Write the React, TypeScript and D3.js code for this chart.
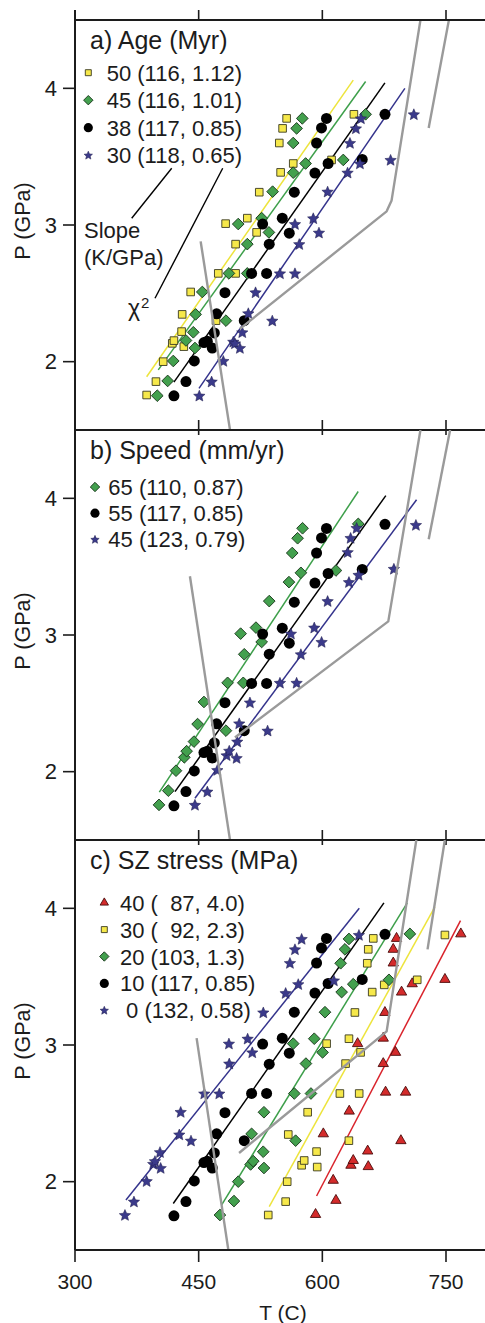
import React from "react";
import * as d3 from "d3";

type Pt = [number, number];

const T_TICKS = [300, 450, 600, 750];
const P_TICKS = [2, 3, 4];

// ---------- shared reference case (38 Myr / 55 mm/yr / 10 MPa) ----------
const refCase: Pt[] = [
  [420, 1.75], [434.6, 1.854], [444.7, 2.005], [456.4, 2.14], [460.5, 2.15], [466.5, 2.1],
  [469, 2.21], [471.8, 2.35], [481.9, 2.505], [505.3, 2.3], [514.2, 2.646], [532.4, 2.646],
  [535.6, 2.86], [527.6, 3.007], [551.4, 3.05], [559.9, 2.94], [566, 3.24], [591, 3.38],
  [593, 3.6], [599, 3.71], [605, 3.78], [607, 3.45], [648.4, 3.48], [676, 3.81],
];

// ---------- panel a: slab age ----------
const age50: Pt[] = [
  [386.9, 1.756], [398.2, 1.854], [407, 2.0], [418, 2.134], [420, 2.154], [432, 2.11],
  [429.3, 2.22], [430, 2.346], [471, 2.3], [440.3, 2.51], [473.8, 2.646], [494.8, 2.646],
  [494.8, 2.86], [482.7, 3.01], [509, 3.05], [520.3, 2.946], [523.5, 3.24], [549.4, 3.385],
  [547.8, 3.6], [551.8, 3.707], [556.7, 3.78], [564.7, 3.45], [611.2, 3.476], [638.3, 3.81],
];
const age45: Pt[] = [
  [399.8, 1.751], [412.4, 1.859], [419.2, 2.005], [434.6, 2.155], [445.5, 2.1], [443.5, 2.215],
  [446.3, 2.346], [483.1, 2.3], [454.4, 2.51], [486.7, 2.646], [509, 2.646], [509, 2.86],
  [498, 3.007], [526.4, 3.05], [535.2, 2.946], [539.7, 3.244], [564.7, 3.383], [564.7, 3.6],
  [568.8, 3.707], [575.7, 3.78], [579.7, 3.45], [625.4, 3.476], [652.5, 3.81],
];
const age30: Pt[] = [
  [450.8, 1.751], [465.7, 1.854], [479.9, 2.005], [492, 2.146], [494, 2.134], [500, 2.1],
  [502.9, 2.215], [510.2, 2.354], [539.3, 2.3], [519, 2.507], [548.6, 2.646], [566.8, 2.646],
  [572, 2.86], [566.8, 3.007], [589, 3.049], [595.9, 2.944], [606.4, 3.244], [630.6, 3.383],
  [633.5, 3.6], [640.7, 3.707], [646.8, 3.78], [645.6, 3.45], [682.8, 3.476], [711, 3.81],
];
const fitAge50: Pt[] = [[386.9, 1.89], [637.5, 4.06]];
const fitAge45: Pt[] = [[401, 1.94], [652.5, 4.05]];
const fitAge38: Pt[] = [[420, 1.85], [675.9, 4.04]];
const fitAge30: Pt[] = [[450.4, 1.805], [700.1, 4.0]];

// ---------- panel b: convergence speed ----------
const speed65: Pt[] = [
  [401.9, 1.757], [413.2, 1.861], [422.5, 2.007], [432.6, 2.105], [435.4, 2.15], [444.3, 2.22],
  [448.7, 2.348], [483.1, 2.3], [456.4, 2.51], [485.1, 2.65], [504.1, 2.65], [505.3, 2.859],
  [500.9, 3.01], [519.5, 3.054], [526.4, 2.949], [535.6, 3.248], [559.5, 3.387], [563.5, 3.6],
  [570, 3.708], [576, 3.781], [574, 3.455], [616.5, 3.472], [643.6, 3.813],
];
const speed45: Pt[] = [
  [445.5, 1.757], [460.5, 1.854], [472.6, 2.012], [483.9, 2.12], [487.1, 2.153], [496, 2.1],
  [496.8, 2.22], [499.2, 2.353], [533.6, 2.3], [512.2, 2.506], [548.6, 2.65], [568.8, 2.65],
  [574, 2.859], [561.9, 3.01], [590.2, 3.054], [599.1, 2.949], [606.4, 3.248], [632.3, 3.387],
  [630.7, 3.606], [634.3, 3.71], [641.6, 3.783], [644, 3.44], [686.8, 3.484], [713.5, 3.805],
];
const fitSpeed65: Pt[] = [[402.3, 1.85], [643.5, 4.05]];
const fitSpeed55: Pt[] = [[421.3, 1.854], [677, 4.02]];
const fitSpeed45: Pt[] = [[445.5, 1.805], [714.3, 3.99]];

// ---------- panel c: shear-zone stress ----------
const stress40: Pt[] = [
  [591.8, 1.76], [616.5, 1.863], [613.2, 2.01], [634.7, 2.12], [637.5, 2.155], [655.7, 2.11],
  [655, 2.224], [601.2, 2.35], [695.3, 2.3], [632.6, 2.516], [676.7, 2.655], [701, 2.655],
  [673.9, 2.864], [642.8, 3.01], [673.9, 3.05], [688.8, 2.946], [675.9, 3.238], [696.1, 3.387],
  [686, 3.6], [686, 3.7], [690, 3.78], [709, 3.448], [748.7, 3.48], [768, 3.813],
];
const stress30: Pt[] = [
  [534.4, 1.756], [555.5, 1.854], [557.4, 2.0], [574.9, 2.12], [578, 2.155], [593.8, 2.107],
  [593, 2.22], [558.7, 2.345], [632.2, 2.3], [582.2, 2.508], [621.3, 2.645], [644.7, 2.645],
  [628.2, 2.864], [605.2, 3.01], [632.3, 3.046], [646.4, 2.946], [639.5, 3.238], [660.5, 3.387],
  [654.5, 3.598], [655.7, 3.7], [661.8, 3.78], [675.1, 3.44], [715.1, 3.477], [748.7, 3.805],
];
const stress20: Pt[] = [
  [475.8, 1.756], [492.8, 1.858], [498, 2.0], [513, 2.126], [516.2, 2.15], [529.2, 2.1],
  [528.3, 2.219], [514.2, 2.35], [567.6, 2.3], [529.2, 2.508], [566, 2.645], [586.2, 2.645],
  [580.1, 2.864], [564.7, 3.01], [590.2, 3.046], [600.3, 2.946], [603.2, 3.24], [623.4, 3.387],
  [622.2, 3.598], [627.4, 3.7], [632.3, 3.776], [637.5, 3.445], [680.8, 3.477], [706.2, 3.813],
];
const stress0: Pt[] = [
  [360.6, 1.756], [371.5, 1.854], [386.9, 2.004], [394.9, 2.13], [397, 2.15], [403.9, 2.1],
  [403.1, 2.216], [426.5, 2.345], [440.7, 2.3], [428.2, 2.51], [456.8, 2.645], [475, 2.645],
  [487.1, 2.864], [486.7, 3.01], [509.4, 3.046], [515, 2.946], [528.4, 3.238], [555.5, 3.38],
  [560.7, 3.6], [566.8, 3.7], [574.9, 3.776], [570.8, 3.445], [614, 3.472], [644.4, 3.805],
];
const fitStress40: Pt[] = [[593, 1.895], [767.6, 3.91]];
const fitStress30: Pt[] = [[535.6, 1.817], [736.5, 4.01]];
const fitStress20: Pt[] = [[477.9, 1.83], [703, 4.04]];
const fitStress10: Pt[] = [[419.2, 1.84], [674.7, 4.04]];
const fitStress0: Pt[] = [[361.8, 1.866], [644.8, 4.0]];

// ---------- grey reference curves ----------
const greyLeftA: Pt[] = [[452.4, 2.88], [488, 1.5]];
const greyLeftB: Pt[] = [[439.4, 3.43], [488, 1.5]];
const greyLeftC: Pt[] = [[447.5, 3.05], [486, 1.5]];
const greyKinkA: Pt[] = [[500, 2.24], [678, 3.1], [684, 3.18], [719, 4.5]];
const greyKinkB: Pt[] = [[494, 2.25], [680, 3.1], [719, 4.5]];
const greyKinkC: Pt[] = [[499, 2.21], [678, 3.1], [714, 4.5]];
const greyRightA: Pt[] = [[729, 3.71], [753.5, 4.5]];
const greyRightB: Pt[] = [[729, 3.7], [755, 4.5]];
const greyRightC: Pt[] = [[727.6, 3.7], [748.6, 4.5]];

type Kind = "square" | "diamond" | "circle" | "star" | "triangle";

const STYLE: Record<Kind, { fill: string; stroke: string; sw: number; size: number; lsize: number; line: string }> = {
  square: { fill: "#f6e84a", stroke: "#3a3a20", sw: 0.9, size: 58, lsize: 36, line: "#ede43c" },
  diamond: { fill: "#43a04e", stroke: "#1d3b20", sw: 0.9, size: 68, lsize: 44, line: "#3d9f4a" },
  circle: { fill: "#000", stroke: "#000", sw: 0, size: 95, lsize: 66, line: "#000" },
  star: { fill: "#3b3a8a", stroke: "#1c1b4a", sw: 0.5, size: 6, lsize: 4.4, line: "#34338c" },
  triangle: { fill: "#d42b2b", stroke: "#4a0b0b", sw: 0.9, size: 46, lsize: 30, line: "#d9232b" },
};

// five-pointed star with a slightly fat core; size = outer radius
const fatStar = {
  draw(context: any, r: number) {
    const inner = r * 0.46;
    for (let i = 0; i < 10; i++) {
      const rad = i % 2 === 0 ? r : inner;
      const a = (i * Math.PI) / 5 - Math.PI / 2;
      const px = rad * Math.cos(a);
      const py = rad * Math.sin(a) + r * 0.08;
      if (i === 0) context.moveTo(px, py);
      else context.lineTo(px, py);
    }
    context.closePath();
  },
};

function symbolPath(kind: Kind, size: number): string {
  const t: any =
    kind === "square" || kind === "diamond"
      ? d3.symbolSquare
      : kind === "circle"
      ? d3.symbolCircle
      : kind === "star"
      ? fatStar
      : d3.symbolTriangle;
  return d3.symbol().type(t).size(size)() || "";
}

type Series = { label: string; kind: Kind; data: Pt[]; fit: Pt[] };

const panels: {
  key: string;
  top: number;
  title: string;
  markerX: number;
  textX: number;
  base0: number;
  dy: number;
  series: Series[];
  greys: Pt[][];
}[] = [
  {
    key: "a",
    top: 20,
    title: "a) Age (Myr)",
    markerX: 88.3,
    textX: 106.7,
    base0: 80.7,
    dy: 27.5,
    series: [
      { label: "50 (116, 1.12)", kind: "square", data: age50, fit: fitAge50 },
      { label: "45 (116, 1.01)", kind: "diamond", data: age45, fit: fitAge45 },
      { label: "38 (117, 0.85)", kind: "circle", data: refCase, fit: fitAge38 },
      { label: "30 (118, 0.65)", kind: "star", data: age30, fit: fitAge30 },
    ],
    greys: [greyLeftA, greyKinkA, greyRightA],
  },
  {
    key: "b",
    top: 430,
    title: "b) Speed (mm/yr)",
    markerX: 95,
    textX: 108.3,
    base0: 495,
    dy: 26.2,
    series: [
      { label: "65 (110, 0.87)", kind: "diamond", data: speed65, fit: fitSpeed65 },
      { label: "55 (117, 0.85)", kind: "circle", data: refCase, fit: fitSpeed55 },
      { label: "45 (123, 0.79)", kind: "star", data: speed45, fit: fitSpeed45 },
    ],
    greys: [greyLeftB, greyKinkB, greyRightB],
  },
  {
    key: "c",
    top: 840,
    title: "c) SZ stress (MPa)",
    markerX: 104.3,
    textX: 120,
    base0: 910.7,
    dy: 26.9,
    series: [
      { label: "40 (  87, 4.0)", kind: "triangle", data: stress40, fit: fitStress40 },
      { label: "30 (  92, 2.3)", kind: "square", data: stress30, fit: fitStress30 },
      { label: "20 (103, 1.3)", kind: "diamond", data: stress20, fit: fitStress20 },
      { label: "10 (117, 0.85)", kind: "circle", data: refCase, fit: fitStress10 },
      { label: " 0 (132, 0.58)", kind: "star", data: stress0, fit: fitStress0 },
    ],
    greys: [greyLeftC, greyKinkC, greyRightC],
  },
];

const W = 485;
const H = 1323;
const LEFT = 75;
const PANEL_H = 410;
const FONT = "'Liberation Sans', Arial, Helvetica, sans-serif";
const INK = "#1c1c1c";

export default function App() {
  const x = d3.scaleLinear().domain([300, 750]).range([LEFT, 446]);
  const bottom = panels[panels.length - 1].top + PANEL_H;

  return (
    <div style={{ position: "absolute", left: 0, top: 0, background: "#fff" }}>
      <svg width={W} height={H} style={{ display: "block", fontFamily: FONT }}>
        <rect x={0} y={0} width={W} height={H} fill="#fff" />
        <defs>
          {panels.map((p) => (
            <clipPath id={`clip-${p.key}`} key={p.key}>
              <rect x={LEFT} y={p.top} width={W - LEFT} height={PANEL_H} />
            </clipPath>
          ))}
        </defs>

        {panels.map((p) => {
          const y = d3.scaleLinear().domain([1.5, 4.5]).range([p.top + PANEL_H, p.top]);
          const line = d3
            .line<Pt>()
            .x((d) => x(d[0]))
            .y((d) => y(d[1]));
          return (
            <g key={p.key}>
              <g clipPath={`url(#clip-${p.key})`}>
                {p.series.map((s) => (
                  <path
                    key={"fit" + s.label}
                    d={line(s.fit) || ""}
                    fill="none"
                    stroke={STYLE[s.kind].line}
                    strokeWidth={1.5}
                  />
                ))}
                {p.series.map((s) => {
                  const st = STYLE[s.kind];
                  const d = symbolPath(s.kind, st.size);
                  return (
                    <g key={"pts" + s.label}>
                      {s.data.map((pt, i) => (
                        <path
                          key={i}
                          d={d}
                          transform={`translate(${x(pt[0])},${y(pt[1])})${s.kind === "diamond" ? " rotate(45)" : ""}`}
                          fill={st.fill}
                          stroke={st.sw > 0 ? st.stroke : "none"}
                          strokeWidth={st.sw}
                        />
                      ))}
                    </g>
                  );
                })}
                {p.greys.map((g, i) => (
                  <path
                    key={"g" + i}
                    d={line(g) || ""}
                    fill="none"
                    stroke="#9a9a9a"
                    strokeWidth={2.4}
                    strokeLinejoin="round"
                  />
                ))}
              </g>

              {/* title + legend */}
              <text x={90} y={p.top + 29} fontSize={25} fill={INK}>
                {p.title}
              </text>
              {p.series.map((s, i) => {
                const st = STYLE[s.kind];
                const base = p.base0 + i * p.dy;
                return (
                  <g key={"leg" + s.label}>
                    <path
                      d={symbolPath(s.kind, st.lsize)}
                      transform={`translate(${p.markerX},${base - 8})${s.kind === "diamond" ? " rotate(45)" : ""}`}
                      fill={st.fill}
                      stroke={st.sw > 0 ? st.stroke : "none"}
                      strokeWidth={st.sw}
                    />
                    <text
                      x={p.textX}
                      y={base}
                      fontSize={22}
                      fill={INK}
                      xmlSpace="preserve"
                      style={{ whiteSpace: "pre" }}
                    >
                      {s.label}
                    </text>
                  </g>
                );
              })}

              {/* y axis ticks */}
              {P_TICKS.map((t) => (
                <g key={"yt" + t}>
                  <line x1={LEFT - 12} x2={LEFT} y1={y(t)} y2={y(t)} stroke={INK} strokeWidth={1.6} />
                  <text
                    x={LEFT - 18}
                    y={y(t)}
                    fontSize={22}
                    textAnchor="end"
                    dominantBaseline="central"
                    fill={INK}
                  >
                    {t}
                  </text>
                </g>
              ))}
              <text
                transform={`translate(22.5,${y(3) - 4}) rotate(-90)`}
                fontSize={21.5}
                textAnchor="middle"
                dominantBaseline="central"
                fill={INK}
              >
                P (GPa)
              </text>

              {/* panel bottom boundary */}
              <line
                x1={LEFT}
                x2={W}
                y1={p.top + PANEL_H}
                y2={p.top + PANEL_H}
                stroke={INK}
                strokeWidth={2}
              />
              {p.key !== "c" &&
                T_TICKS.slice(1).map((t) => (
                  <line
                    key={"it" + t}
                    x1={x(t)}
                    x2={x(t)}
                    y1={p.top + PANEL_H - 10}
                    y2={p.top + PANEL_H + 5}
                    stroke={INK}
                    strokeWidth={1.6}
                  />
                ))}
            </g>
          );
        })}

        {/* panel a top border and ticks */}
        <line x1={LEFT} x2={W} y1={panels[0].top} y2={panels[0].top} stroke={INK} strokeWidth={2} />
        {T_TICKS.map((t) => (
          <line
            key={"tt" + t}
            x1={x(t)}
            x2={x(t)}
            y1={panels[0].top - 10}
            y2={panels[0].top}
            stroke={INK}
            strokeWidth={1.6}
          />
        ))}
        {/* left axis */}
        <line x1={LEFT} x2={LEFT} y1={panels[0].top - 10} y2={bottom} stroke={INK} strokeWidth={2} />

        {/* bottom x axis */}
        {T_TICKS.map((t) => (
          <g key={"bt" + t}>
            <line x1={x(t)} x2={x(t)} y1={bottom} y2={bottom + 12} stroke={INK} strokeWidth={1.6} />
            <text x={x(t)} y={bottom + 38.5} fontSize={21} textAnchor="middle" fill={INK}>
              {t}
            </text>
          </g>
        ))}
        <text x={283} y={bottom + 69.5} fontSize={21} textAnchor="middle" fill={INK}>
          T (C)
        </text>

        {/* Slope / chi^2 annotation, panel a */}
        <line x1={131.7} y1={218.3} x2={171.7} y2={168.3} stroke="#000" strokeWidth={1.4} />
        <line x1={155} y1={298.3} x2={222.7} y2={168.3} stroke="#000" strokeWidth={1.4} />
        <text x={84} y={238} fontSize={22} fill={INK}>
          Slope
        </text>
        <text x={84} y={264.5} fontSize={22} fill={INK}>
          (K/GPa)
        </text>
        <text x={128} y={316} fontSize={23} fill={INK}>
          χ
        </text>
        <text x={141} y={308} fontSize={15} fill={INK}>
          2
        </text>
      </svg>
    </div>
  );
}
